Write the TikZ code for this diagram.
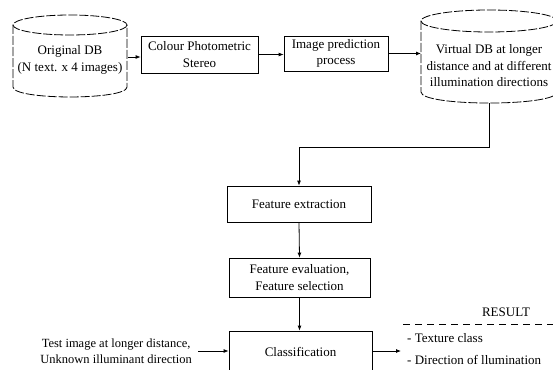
\documentclass[tikz,border=0pt]{standalone}
\usepackage{fontspec}
\setmainfont{Liberation Serif}
\usetikzlibrary{arrows.meta}
\begin{document}
\begin{tikzpicture}[x=1pt,y=-1pt,
  every node/.style={font=\fontsize{13}{16.5}\selectfont, inner sep=0pt},
  procbox/.style={draw, line width=0.8pt, align=center},
  cyl/.style={line width=0.8pt, dash pattern=on 9pt off 2pt},
  cyltext/.style={align=center},
  conn/.style={line width=0.8pt},
  arr/.style={conn, -{Latex[length=5pt,width=4pt]}},
  restext/.style={anchor=west}]
\useasboundingbox (0,0) rectangle (553,369);
% Original DB cylinder
\draw[cyl] (70,25) ellipse [x radius=57, y radius=10];
\draw[cyl] (13,25) -- (13,87) .. controls (13,100.3) and (127,100.3) .. (127,87) -- (127,25);
\node[cyltext] (odb) at (70,60) {Original DB\\(N text. x 4 images)};
\coordinate (odbE) at (128,57);
% process boxes
\node[procbox, minimum width=117pt, minimum height=37pt] (cps) at (199.5,54.5) {Colour Photometric\\Stereo};
\node[procbox, minimum width=104pt, minimum height=35pt] (ipp) at (336,53.5) {Image prediction\\process};
% Virtual DB cylinder
\draw[cyl] (489,21) ellipse [x radius=68, y radius=11];
\draw[cyl] (421,21) -- (421,92) .. controls (421,106.7) and (557,106.7) .. (557,92) -- (557,21);
\node[cyltext] (vdb) at (489,66) {Virtual DB at longer\\distance and at different\\illumination directions};
\coordinate (vdbW) at (421,53.5);
\coordinate (vdbS) at (489,103);
\coordinate (bend) at (489,147);
% lower boxes
\node[procbox, minimum width=144pt, minimum height=36pt] (fe) at (299,204) {Feature extraction};
\node[procbox, minimum width=141pt, minimum height=39pt] (fev) at (299.5,277.5) {Feature evaluation,\\Feature selection};
\node[procbox, minimum width=143pt, minimum height=49pt] (cls) at (300.5,355.5) {};
\node (clst) at (300.5,352) {Classification};
\node[align=center, anchor=east, font=\fontsize{12.5}{16}\selectfont] (test) at (192,351) {Test image at longer distance,\\Unknown illuminant direction};
\coordinate (resin) at (401,351);
\node (result) at (506,312) {RESULT};
\coordinate (dl1) at (403,324);
\coordinate (dl2) at (553,324);
\node[restext] (tc) at (407,338) {- Texture class};
\node[restext] (dir) at (407,360) {- Direction of llumination};
% connectors
\draw[arr] (odbE) -- (odbE -| cps.west);
\draw[arr] (cps.east) -- (cps.east -| ipp.west);
\draw[arr] (ipp.east) -- (vdbW);
\draw[arr] (vdbS) -- (bend) -| (fe.north);
\draw[arr] (fe.south) -- (fev.north);
\draw[arr] (fev.south) -- (fev.south |- cls.north);
\draw[arr, shorten <=6pt] (test.east) -- (test.east -| cls.west);
\draw[arr] (cls.east |- resin) -- (resin);
\draw[conn, dash pattern=on 7pt off 5pt] (dl1) -- (dl2);
\end{tikzpicture}
\end{document}
